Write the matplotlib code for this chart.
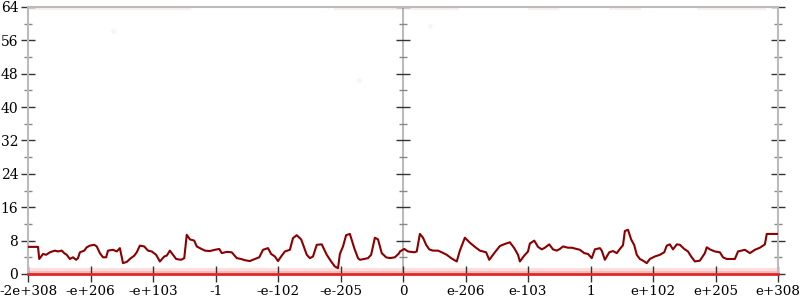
import numpy as np
import matplotlib.pyplot as plt
from matplotlib.ticker import MultipleLocator

# x is measured in tick slots (0 .. 12), one slot per label
x_labels = ['-2e+308', '-e+206', '-e+103', '-1', '-e-102', '-e-205', '0',
            'e-206', 'e-103', '1', 'e+102', 'e+205', 'e+308']
y_ticks = [0, 8, 16, 24, 32, 40, 48, 56, 64]

# dark red walk
walk_x = [0, 0.16, 0.18, 0.19, 0.24, 0.29, 0.35, 0.43, 0.48, 0.54, 0.58, 0.62, 0.67, 0.72,
          0.77, 0.8, 0.83, 0.9, 0.94, 0.99, 1.06, 1.1, 1.15, 1.2, 1.25, 1.28, 1.36, 1.42,
          1.47, 1.52, 1.58, 1.63, 1.7, 1.74, 1.79, 1.86, 1.92, 1.98, 2.05, 2.11, 2.18, 2.22,
          2.27, 2.32, 2.37, 2.45, 2.5, 2.54, 2.59, 2.66, 2.7, 2.75,
          2.83, 2.91, 2.99, 3.06, 3.1, 3.18, 3.26, 3.34, 3.41, 3.47, 3.55, 3.63, 3.7, 3.76,
          3.84, 3.89, 3.95, 4.0, 4.05, 4.11, 4.19, 4.24, 4.3, 4.37, 4.4, 4.46, 4.51, 4.56,
          4.62, 4.7, 4.78, 4.85, 4.91, 4.96, 4.99, 5.04, 5.09, 5.15, 5.22, 5.28, 5.31, 5.38,
          5.44, 5.49, 5.55, 5.6, 5.66, 5.73, 5.79, 5.87, 5.94,
          5.95, 6.02, 6.08, 6.18, 6.22, 6.27, 6.32, 6.37, 6.42, 6.48, 6.56, 6.62, 6.7, 6.77,
          6.86, 6.91, 6.99, 7.07, 7.15, 7.23, 7.33, 7.38, 7.42, 7.47, 7.55, 7.63, 7.71, 7.78,
          7.84, 7.87, 7.94, 8.0, 8.03, 8.1, 8.16, 8.22, 8.27, 8.34, 8.4, 8.46, 8.51, 8.56,
          8.64, 8.7, 8.78, 8.83, 8.9, 8.96, 9.02, 9.07, 9.15,
          9.18, 9.23, 9.3, 9.36, 9.42, 9.47, 9.52, 9.55, 9.6, 9.65, 9.7, 9.74, 9.79, 9.84,
          9.9, 9.95, 10.03, 10.11, 10.18, 10.22, 10.27, 10.32, 10.38, 10.43, 10.5, 10.56,
          10.61, 10.67, 10.75, 10.83, 10.86, 10.91, 10.99, 11.07, 11.12, 11.18, 11.31, 11.36,
          11.47, 11.55, 11.63, 11.71, 11.79, 11.82, 12]
walk_y = [6.5, 6.5, 3.6, 3.8, 4.8, 4.6, 5.2, 5.6, 5.4, 5.6, 5.0, 4.6, 3.6, 4.0,
          3.4, 3.8, 5.2, 5.6, 6.4, 6.8, 7.0, 6.6, 5.0, 4.0, 4.0, 5.6, 5.8, 5.4,
          6.2, 2.6, 2.9, 3.6, 4.4, 5.2, 6.8, 6.6, 5.6, 5.4, 4.6, 3.0, 4.2, 4.4,
          5.6, 4.6, 3.6, 3.4, 3.8, 9.4, 8.3, 8.0, 6.6, 6.2,
          5.6, 5.5, 5.8, 6.0, 5.0, 5.3, 5.2, 3.8, 3.6, 3.3, 3.1, 3.6, 4.0, 5.8,
          6.2, 4.8, 4.2, 3.1, 4.2, 5.4, 5.8, 8.6, 9.3, 8.3, 7.1, 4.6, 3.8, 4.2,
          7.0, 7.1, 4.6, 3.0, 1.8, 1.4, 4.8, 6.6, 9.3, 9.6, 6.2, 3.8, 3.4, 3.6,
          3.8, 4.6, 8.7, 8.3, 5.0, 4.0, 3.8, 4.0, 5.0,
          5.4, 6.0, 5.4, 5.2, 5.4, 9.6, 8.7, 7.0, 5.9, 5.6, 5.6, 5.2, 4.6, 3.8,
          3.0, 5.6, 8.7, 7.5, 6.5, 5.6, 5.2, 3.4, 4.2, 5.2, 6.7, 7.2, 7.6, 6.2,
          4.6, 3.0, 4.4, 5.4, 7.3, 8.0, 6.5, 5.9, 6.3, 7.1, 5.9, 5.6, 6.0, 6.6,
          6.3, 6.3, 6.0, 5.8, 5.0, 4.8, 3.8, 5.9, 6.2,
          5.6, 3.4, 5.2, 5.5, 5.0, 6.0, 6.9, 10.3, 10.6, 8.3, 6.9, 4.6, 3.6, 3.2,
          2.6, 3.6, 4.2, 4.6, 5.2, 6.8, 7.1, 5.9, 7.1, 7.0, 6.0, 5.4,
          4.2, 3.0, 3.2, 5.0, 6.4, 5.9, 5.4, 5.2, 4.0, 3.6, 3.6, 5.4,
          5.8, 5.0, 5.8, 6.3, 7.1, 9.6, 9.6]

# faint stretches just under the top line (start, end)
top_start = [0.0, 4.9, 8.0, 9.3, 10.7]
top_end = [2.6, 6.9, 8.5, 9.8, 11.8]
stray_x = [1.36, 6.43, 5.3]
stray_y = [58.3, 59.5, 46.5]

fig = plt.figure(figsize=(8, 3), dpi=100)
ax = fig.add_axes([0.035, 0.0867, 0.9375, 0.89])
xs = np.arange(len(x_labels))

# bottom band + zero line
ax.fill_between([xs[0], xs[-1]], 0, 1.5, color='#f07070', alpha=0.22, lw=0)
ax.fill_between([xs[0], xs[-1]], 0, 0.8, color='#f07070', alpha=0.3, lw=0)
for a, b in zip(top_start, top_end):
    ax.fill_between([a, b], 63.3, 64, color='#f07070', alpha=0.12, lw=0)
ax.scatter(stray_x, stray_y, s=12, color='#f06060', alpha=0.08, lw=0)
ax.plot([xs[0], xs[-1]], [0, 0], color='#e02828', lw=2, zorder=5, clip_on=False)

ax.plot(walk_x, walk_y, color='#8b0000', lw=1.5, zorder=4)

# centre axis with its own ticks
mid = xs[len(xs) // 2]
ax.axvline(mid, color='#bbbbbb', lw=1.5, zorder=1)
minor_y = [v + 4 for v in y_ticks[:-1]]
ax.plot([mid] * len(y_ticks), y_ticks, ls='none', marker='_', ms=10, mew=1, color='#333333')
ax.plot([mid] * len(minor_y), minor_y, ls='none', marker='_', ms=6, mew=1, color='#888888')

ax.set_xlim(xs[0], xs[-1])
ax.set_ylim(0, 64)
ax.set_xticks(xs)
ax.set_xticklabels(x_labels)
ax.set_yticks(y_ticks)
ax.yaxis.set_minor_locator(MultipleLocator(4))

for s in ['left', 'right', 'top']:
    ax.spines[s].set_color('#bbbbbb')
    ax.spines[s].set_linewidth(1.5)
ax.spines['bottom'].set_visible(False)

ax.tick_params(axis='y', which='major', direction='inout', length=10, width=1,
               color='#333333', left=True, right=True, labelsize=10, pad=2)
ax.tick_params(axis='y', which='minor', direction='inout', length=6, width=1,
               color='#888888', left=True, right=True)
ax.tick_params(axis='x', direction='inout', length=12, width=1, color='#333333',
               labelsize=9.7, pad=2)
for lab in ax.get_xticklabels() + ax.get_yticklabels():
    lab.set_family('DejaVu Serif')

plt.savefig('out.png', dpi=100)
